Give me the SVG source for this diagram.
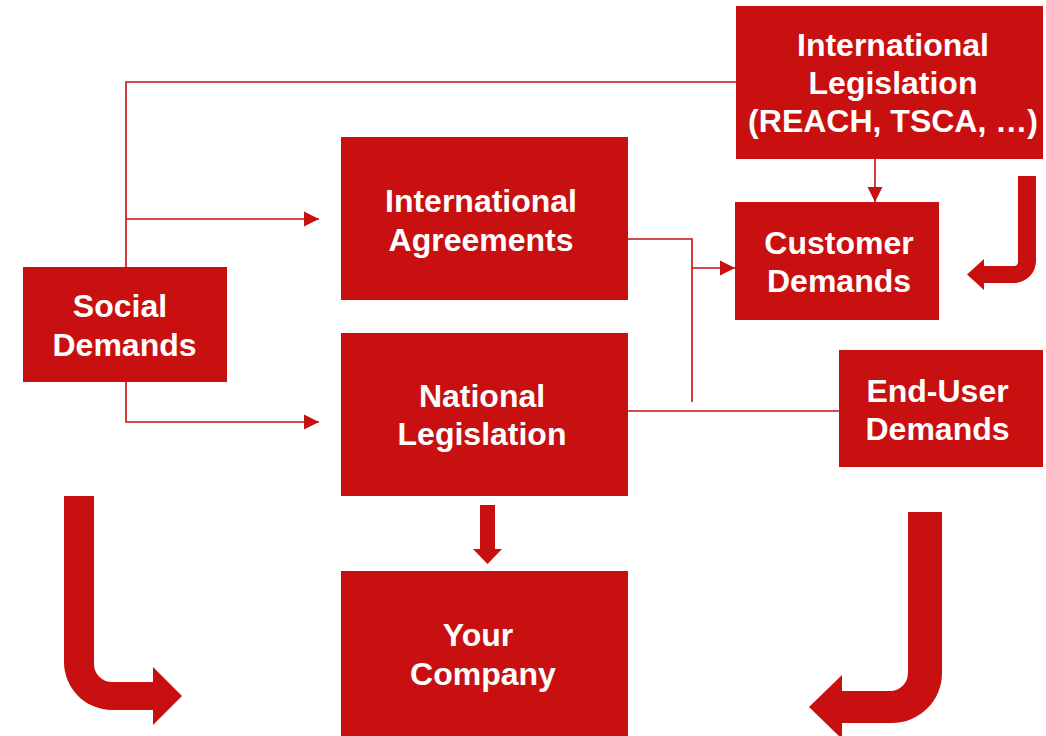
<svg xmlns="http://www.w3.org/2000/svg" width="1046" height="736" viewBox="0 0 1046 736">
<style>
.box{fill:#C81010}
.t{fill:#fff;font-family:"Liberation Sans",Arial,sans-serif;font-weight:bold;font-size:32px;text-anchor:middle}
.ln{fill:none;stroke:#C81010;stroke-width:1.6}
.big{fill:#C81010}
</style>
<defs>
<marker id="ah" markerUnits="userSpaceOnUse" markerWidth="16" markerHeight="16" viewBox="0 0 16 16" refX="15" refY="8" orient="auto">
<path d="M0,0.5 L15,8 L0,15.5 Z" fill="#C81010"/>
</marker>
</defs>
<rect width="1046" height="736" fill="#fff"/>
<g id="connectors">
<path class="ln" d="M736,82 H126 V267"/>
<path class="ln" d="M126,219 H319" marker-end="url(#ah)"/>
<path class="ln" d="M126,382 V422 H319" marker-end="url(#ah)"/>
<path class="ln" d="M628,239 H692 V402"/>
<path class="ln" d="M692,268 H735" marker-end="url(#ah)"/>
<path class="ln" d="M628,411 H839"/>
<path class="ln" d="M875,159 V202" marker-end="url(#ah)"/>
<polygon class="big" points="480,505 495,505 495,549 502,549 487.5,564 473,549 480,549"/>
<path class="big" d="M64,496 H94 V664 A18,18 0 0 0 112,682 H153 V667 L182,696 L153,725 V710 H112 A48,48 0 0 1 64,662 Z"/>
<path class="big" d="M908,512 H942 V673 A50,50 0 0 1 892,723 H842 V739 L809,707 L842,675 V691 H890 A18,18 0 0 0 908,673 Z"/>
<path class="big" d="M1018,176 H1036 V261 A22,22 0 0 1 1014,283 H984 V290 L967,274.5 L984,259 V266 H1014 A4,4 0 0 0 1018,262 Z"/>
</g>
<g id="intl-legislation">
<rect class="box" x="736" y="6" width="307" height="153"/>
<text class="t" x="893" y="56">International</text>
<text class="t" x="893" y="94">Legislation</text>
<text class="t" x="893" y="132">(REACH, TSCA, …)</text>
</g>
<g id="intl-agreements">
<rect class="box" x="341" y="137" width="287" height="163"/>
<text class="t" x="481" y="212">International</text>
<text class="t" x="481" y="251">Agreements</text>
</g>
<g id="customer-demands">
<rect class="box" x="735" y="202" width="204" height="118"/>
<text class="t" x="839" y="254">Customer</text>
<text class="t" x="839" y="292">Demands</text>
</g>
<g id="social-demands">
<rect class="box" x="23" y="267" width="204" height="115"/>
<text class="t" x="120" y="317">Social</text>
<text class="t" x="124.5" y="356">Demands</text>
</g>
<g id="national-legislation">
<rect class="box" x="341" y="333" width="287" height="163"/>
<text class="t" x="482" y="407">National</text>
<text class="t" x="482" y="445">Legislation</text>
</g>
<g id="end-user-demands">
<rect class="box" x="839" y="350" width="204" height="117"/>
<text class="t" x="937.5" y="402">End-User</text>
<text class="t" x="937.5" y="440">Demands</text>
</g>
<g id="your-company">
<rect class="box" x="341" y="571" width="287" height="165"/>
<text class="t" x="478" y="646">Your</text>
<text class="t" x="483" y="685">Company</text>
</g>
</svg>
